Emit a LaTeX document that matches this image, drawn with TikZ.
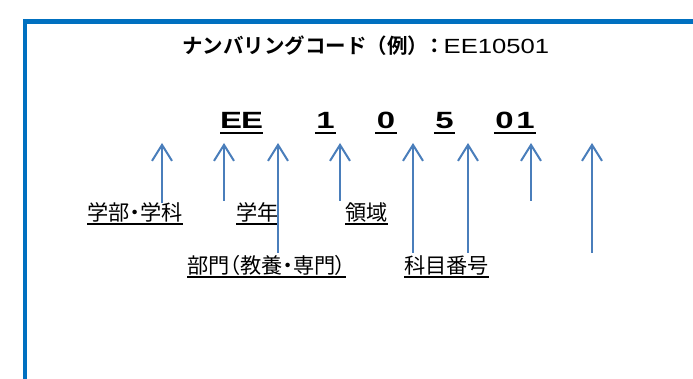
\documentclass[tikz,border=0pt]{standalone}
\usepackage{fontspec}
\setmainfont{Liberation Sans}
\newfontfamily\jpfont{Noto Sans CJK JP}[BoldFont={Noto Sans CJK JP Bold}]
\newfontfamily\jplabelfont{Noto Sans CJK JP}[RawFeature=+palt]
\newfontfamily\latinwide{Liberation Sans}[FakeStretch=1.25]
\newfontfamily\codefont{Liberation Sans Bold}[FakeStretch=1.4]
\definecolor{frameblue}{RGB}{0, 112, 192}
\definecolor{arrowblue}{RGB}{74, 126, 187}
\usetikzlibrary{arrows.meta}
\newcommand{\slot}[1]{\makebox[21pt]{#1}}

\begin{document}
\begin{tikzpicture}[x=1pt,y=-1pt,
    codechar/.style={inner sep=0pt,anchor=base,font=\codefont\fontsize{23.5}{24}\selectfont},
    partlabel/.style={inner sep=0pt,anchor=base west,font=\jplabelfont\fontsize{21.2}{22}\selectfont},
    codeline/.style={line width=2pt,black},
    labelline/.style={line width=1.3pt,black},
    pointer/.style={arrowblue,line width=2.2pt,-{Straight Barb[length=16pt,width=20pt,line width=2pt]}}
]
    \useasboundingbox (0,0) rectangle (693,379);
    \clip (0,0) rectangle (693,379);
    \fill[white] (0,0) rectangle (693,379);

    % frame
    \draw[frameblue,line width=4.5pt] (25,420) -- (25,21.5) -- (720,21.5);

    % title
    \node[inner sep=0pt,anchor=base west,font=\fontsize{20.5}{22}\selectfont] (title) at (182,54)
        {{\jpfont\bfseries ナンバリングコード（例）\kern-4pt：}\kern-1pt{\latinwide EE10501}};

    % code parts
    \node[codechar] (ee) at (241.5,129) {\slot{E}\slot{E}};
    \node[codechar] (one) at (325.5,129) {\slot{1}};
    \node[codechar] (zero) at (386,129) {\slot{0}};
    \node[codechar] (five) at (444.5,129) {\slot{5}};
    \node[codechar] (zeroone) at (515,129) {\slot{0}\slot{1}};
    \draw[codeline] ([yshift=-4pt]ee.base west) -- ([yshift=-4pt]ee.base east);
    \draw[codeline] ([yshift=-4pt]one.base west) -- ([yshift=-4pt]one.base east);
    \draw[codeline] ([yshift=-4pt]zero.base west) -- ([yshift=-4pt]zero.base east);
    \draw[codeline] ([yshift=-4pt]five.base west) -- ([yshift=-4pt]five.base east);
    \draw[codeline] ([yshift=-4pt]zeroone.base west) -- ([yshift=-4pt]zeroone.base east);

    % labels
    \node[partlabel] (faculty) at (87,220.5) {学部・学科};
    \node[partlabel] (year) at (236,220.5) {学年};
    \node[partlabel] (field) at (345,220.5) {領域};
    \node[partlabel] (division) at (187,273.5) {部門（教養・専門）};
    \node[partlabel] (subject) at (404,273.5) {科目番号};
    \draw[labelline] ([yshift=-3.5pt]faculty.base west) -- ([yshift=-3.5pt]faculty.base east);
    \draw[labelline] ([yshift=-3.5pt]year.base west) -- ([yshift=-3.5pt]year.base east);
    \draw[labelline] ([yshift=-3.5pt]field.base west) -- ([yshift=-3.5pt]field.base east);
    \draw[labelline] ([yshift=-3.5pt]division.base west) -- ([yshift=-3.5pt]division.base east);
    \draw[labelline] ([yshift=-3.5pt]subject.base west) -- ([yshift=-3.5pt]subject.base east);

    % arrows
    \coordinate (b1) at (162,203);  \coordinate (t1) at (162,143);
    \coordinate (b2) at (224,201);  \coordinate (t2) at (224,143);
    \coordinate (b3) at (278,253);  \coordinate (t3) at (278,143);
    \coordinate (b4) at (340,201);  \coordinate (t4) at (340,143);
    \coordinate (b5) at (413,253);  \coordinate (t5) at (413,143);
    \coordinate (b6) at (468,253);  \coordinate (t6) at (468,143);
    \coordinate (b7) at (531,201);  \coordinate (t7) at (531,143);
    \coordinate (b8) at (592,253);  \coordinate (t8) at (592,143);
    \draw[pointer] (b1) -- (t1);
    \draw[pointer] (b2) -- (t2);
    \draw[pointer] (b3) -- (t3);
    \draw[pointer] (b4) -- (t4);
    \draw[pointer] (b5) -- (t5);
    \draw[pointer] (b6) -- (t6);
    \draw[pointer] (b7) -- (t7);
    \draw[pointer] (b8) -- (t8);
\end{tikzpicture}
\end{document}
